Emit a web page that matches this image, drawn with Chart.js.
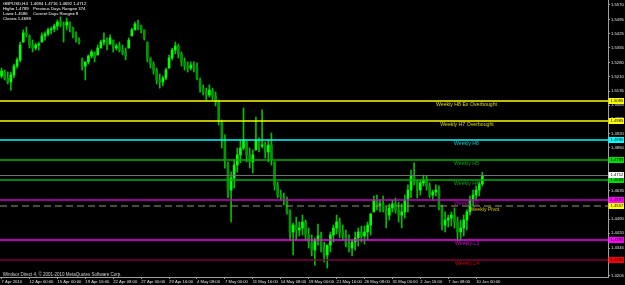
<!DOCTYPE html>
<html><head><meta charset="utf-8">
<script src="https://cdn.jsdelivr.net/npm/chart.js@4.4.1/dist/chart.umd.min.js"></script>
<style>html,body{margin:0;padding:0;background:#000;overflow:hidden}canvas{display:block}</style>
</head><body>
<canvas id="c" width="625" height="285"></canvas>
<script>
// ---------------- DATA ----------------
const dateLabels = ["7 Apr 2010","12 Apr 00:00","15 Apr 00:00","19 Apr 16:00","22 Apr 08:00","27 Apr 00:00","29 Apr 16:00","4 May 08:00","7 May 00:00","11 May 16:00","14 May 08:00","19 May 00:00","21 May 16:00","26 May 08:00","31 May 00:00","2 Jun 16:00","7 Jun 08:00","10 Jun 00:00"];
const priceTicks = [1.5570,1.5495,1.5425,1.5355,1.5280,1.5210,1.5135,1.5065,1.4995,1.4920,1.4850,1.4780,1.4705,1.4635,1.4565,1.4490,1.4420,1.4345,1.4275,1.4205];

const highs = [1.5252,1.5242,1.5232,1.5232,1.5272,1.5303,1.5383,1.5444,1.5459,1.5419,1.5393,1.5378,1.5383,1.5429,1.5434,1.5454,1.5459,1.5474,1.5494,1.5509,
1.5484,1.5504,1.5484,1.5459,1.5434,1.5404,1.5303,1.5283,1.5318,1.5343,1.5333,1.5368,1.5393,1.5429,1.5404,1.5419,1.5393,1.5373,1.5383,1.5368,
1.5353,1.5404,1.5454,1.5484,1.5494,1.5469,1.5444,1.5383,1.5303,1.5283,1.5252,1.5222,1.5212,1.5252,1.5318,1.5353,1.5383,1.5373,1.5333,1.5303,
1.5283,1.5283,1.5283,1.5278,1.5202,1.5167,1.5151,1.5167,1.5151,1.5131,1.5091,1.4990,1.4915,1.4779,1.4728,1.4789,1.4849,1.4889,1.5051,1.4889,
1.4849,1.4839,1.5005,1.4900,1.5041,1.4879,1.4889,1.4925,1.4779,1.4678,1.4637,1.4622,1.4602,1.4537,1.4471,1.4501,1.4476,1.4511,1.4486,1.4446,
1.4411,1.4396,1.4466,1.4426,1.4375,1.4355,1.4426,1.4461,1.4511,1.4496,1.4461,1.4436,1.4411,1.4385,1.4426,1.4446,1.4456,1.4456,1.4476,1.4521,
1.4607,1.4612,1.4587,1.4607,1.4552,1.4567,1.4587,1.4597,1.4577,1.4567,1.4612,1.4663,1.4738,1.4774,1.4688,1.4688,1.4713,1.4708,1.4673,1.4637,
1.4663,1.4658,1.4562,1.4527,1.4511,1.4527,1.4547,1.4501,1.4486,1.4511,1.4537,1.4607,1.4637,1.4658,1.4678,1.4728];

const lows = [1.5202,1.5192,1.5172,1.5141,1.5202,1.5252,1.5283,1.5383,1.5409,1.5353,1.5333,1.5343,1.5343,1.5383,1.5393,1.5414,1.5424,1.5434,1.5444,1.5459,
1.5383,1.5444,1.5434,1.5404,1.5383,1.5373,1.5242,1.5192,1.5272,1.5303,1.5283,1.5318,1.5353,1.5368,1.5343,1.5373,1.5333,1.5343,1.5333,1.5318,
1.5293,1.5353,1.5414,1.5444,1.5444,1.5429,1.5393,1.5283,1.5252,1.5222,1.5172,1.5151,1.5162,1.5192,1.5252,1.5293,1.5323,1.5303,1.5262,1.5242,
1.5232,1.5242,1.5232,1.5192,1.5131,1.5116,1.5091,1.5106,1.5091,1.5061,1.4965,1.4849,1.4748,1.4597,1.4476,1.4648,1.4728,1.4774,1.4839,1.4779,
1.4748,1.4723,1.4839,1.4829,1.4849,1.4799,1.4779,1.4763,1.4637,1.4597,1.4587,1.4562,1.4516,1.4385,1.4310,1.4385,1.4406,1.4411,1.4385,1.4345,
1.4305,1.4259,1.4360,1.4325,1.4275,1.4244,1.4325,1.4375,1.4416,1.4396,1.4385,1.4350,1.4325,1.4305,1.4335,1.4355,1.4375,1.4365,1.4385,1.4411,
1.4527,1.4537,1.4527,1.4527,1.4446,1.4486,1.4527,1.4521,1.4476,1.4446,1.4496,1.4527,1.4597,1.4663,1.4597,1.4612,1.4658,1.4637,1.4597,1.4587,
1.4607,1.4537,1.4436,1.4426,1.4451,1.4456,1.4446,1.4385,1.4385,1.4406,1.4436,1.4511,1.4557,1.4587,1.4607,1.4658];

const opens = [1.5212,1.5232,1.5202,1.5182,1.5217,1.5262,1.5293,1.5383,1.5429,1.5414,1.5368,1.5353,1.5368,1.5383,1.5414,1.5424,1.5444,1.5449,1.5464,1.5484,
1.5474,1.5469,1.5484,1.5454,1.5424,1.5393,1.5293,1.5262,1.5283,1.5313,1.5333,1.5318,1.5353,1.5383,1.5393,1.5373,1.5393,1.5353,1.5363,1.5343,
1.5333,1.5353,1.5414,1.5444,1.5474,1.5464,1.5444,1.5383,1.5303,1.5272,1.5242,1.5192,1.5182,1.5202,1.5252,1.5303,1.5343,1.5363,1.5323,1.5283,
1.5262,1.5252,1.5267,1.5252,1.5192,1.5151,1.5131,1.5116,1.5141,1.5111,1.5081,1.4980,1.4889,1.4768,1.4637,1.4698,1.4763,1.4814,1.4849,1.4879,
1.4814,1.4779,1.4839,1.4889,1.4859,1.4864,1.4829,1.4864,1.4779,1.4663,1.4612,1.4602,1.4587,1.4527,1.4426,1.4461,1.4436,1.4446,1.4476,1.4411,
1.4375,1.4335,1.4385,1.4406,1.4345,1.4310,1.4360,1.4411,1.4446,1.4476,1.4426,1.4406,1.4365,1.4345,1.4375,1.4396,1.4426,1.4406,1.4426,1.4461,
1.4527,1.4587,1.4562,1.4567,1.4537,1.4511,1.4547,1.4567,1.4537,1.4511,1.4527,1.4587,1.4637,1.4708,1.4678,1.4637,1.4673,1.4688,1.4658,1.4612,
1.4627,1.4637,1.4547,1.4461,1.4486,1.4496,1.4511,1.4476,1.4426,1.4446,1.4486,1.4527,1.4587,1.4612,1.4637,1.4668];

const closes = [1.5237,1.5202,1.5182,1.5217,1.5262,1.5293,1.5368,1.5429,1.5419,1.5368,1.5353,1.5368,1.5373,1.5414,1.5424,1.5444,1.5449,1.5464,1.5484,1.5474,
1.5469,1.5484,1.5454,1.5424,1.5393,1.5383,1.5262,1.5283,1.5313,1.5333,1.5303,1.5353,1.5383,1.5393,1.5363,1.5404,1.5353,1.5363,1.5343,1.5333,
1.5313,1.5393,1.5444,1.5474,1.5464,1.5444,1.5404,1.5303,1.5272,1.5242,1.5192,1.5182,1.5202,1.5242,1.5303,1.5343,1.5363,1.5323,1.5283,1.5262,
1.5252,1.5267,1.5252,1.5202,1.5151,1.5131,1.5116,1.5141,1.5111,1.5081,1.4990,1.4889,1.4789,1.4637,1.4698,1.4763,1.4814,1.4849,1.4889,1.4814,
1.4779,1.4814,1.4889,1.4859,1.4864,1.4829,1.4864,1.4789,1.4663,1.4612,1.4602,1.4587,1.4527,1.4426,1.4461,1.4436,1.4446,1.4476,1.4411,1.4375,
1.4335,1.4385,1.4406,1.4345,1.4310,1.4360,1.4411,1.4446,1.4476,1.4426,1.4406,1.4365,1.4345,1.4375,1.4396,1.4426,1.4406,1.4426,1.4461,1.4516,
1.4587,1.4562,1.4567,1.4537,1.4511,1.4547,1.4567,1.4537,1.4511,1.4527,1.4587,1.4637,1.4708,1.4678,1.4637,1.4673,1.4688,1.4658,1.4612,1.4627,
1.4637,1.4547,1.4461,1.4486,1.4496,1.4511,1.4476,1.4426,1.4446,1.4486,1.4527,1.4587,1.4612,1.4637,1.4668,1.4712];

const levelNames = ["Weekly H8 Ex Overbought","Weekly H7 Overbought","Weekly H6","Weekly H5","Weekly H4","Weekly H3","Weekly Pivot","Weekly L3","Weekly L4"];
const levelValues = [1.5085,1.4985,1.4890,1.4789,1.4688,1.4587,1.4557,1.4385,1.4284];
const currentPrice = 1.4712;

const headerLines = [
  ["GBPUSD,H4  1.4694 1.4716 1.4692 1.4712", ""],
  ["High= 1.4789", "Previous Days Range= 374"],
  ["Low= 1.4586", "Current Days Range= 8"],
  ["Close= 1.4698", ""]
];
const copyrightText = "Windsor Direct 4, \u00A9 2001-2010 MetaQuotes Software Corp.";

// ---------------- STYLE ----------------
const SLOTS = 196;      // bar slots across the plot (right part left empty as in MT4 shift)
const LABEL_EVERY = 9;
const FONT = '"Liberation Sans", Arial, sans-serif';
const levelStyle = [
  {line:'#ffff00', text:'#d8d800', box:'#ffff00', w:1.5, cx:466.5},
  {line:'#ffff00', text:'#d8d800', box:'#ffff00', w:1.5, cx:467},
  {line:'#00ffff', text:'#00c8c8', box:'#00ffff', w:1.5, cx:466.5},
  {line:'#00b400', text:'#00a800', box:'#00e000', w:1.5, cx:466.5},
  {line:'#00b400', text:'#00a800', box:'#00e000', w:1.5, cx:466.5},
  {line:'#d000d0', text:'#b000b0', box:'#ff00ff', w:1.5, cx:466.5},
  {line:'#9a9a60', text:'#d8c400', box:'#ffff00', w:1.2, cx:484.5, dash:[7,4]},
  {line:'#ff00ff', text:'#d000d0', box:'#ff00ff', w:1.5, cx:467},
  {line:'#800040', text:'#d00000', box:'#ff0000', w:1.5, cx:467}
];

const labels = new Array(SLOTS).fill('');
dateLabels.forEach((d, k) => { labels[k * LABEL_EVERY] = d; });

const levelsPlugin = {
  id: 'levels',
  afterDatasetsDraw(chart) {
    const {ctx, chartArea: a, scales: {y}} = chart;
    ctx.save();
    // bid line
    let py = Math.round(y.getPixelForValue(currentPrice)) + 0.5;
    ctx.strokeStyle = '#707070'; ctx.lineWidth = 1; ctx.setLineDash([]);
    ctx.beginPath(); ctx.moveTo(a.left, py); ctx.lineTo(a.right, py); ctx.stroke();
    levelValues.forEach((v, i) => {
      const st = levelStyle[i];
      const p = Math.round(y.getPixelForValue(v));
      ctx.strokeStyle = st.line; ctx.lineWidth = st.w; ctx.setLineDash(st.dash || []);
      ctx.beginPath(); ctx.moveTo(a.left, p); ctx.lineTo(a.right, p); ctx.stroke();
    });
    ctx.setLineDash([]);
    // level labels
    ctx.font = '5.2px ' + FONT; ctx.textAlign = 'center'; ctx.textBaseline = 'middle';
    levelValues.forEach((v, i) => {
      const st = levelStyle[i];
      const p = y.getPixelForValue(v);
      ctx.fillStyle = st.text;
      ctx.fillText(levelNames[i], st.cx, p + 3.6);
    });
    ctx.restore();
  },
  afterDraw(chart) {
    const {ctx, chartArea: a, scales: {y}} = chart;
    ctx.save();
    // right price tags
    const tag = (v, bg) => {
      const p = Math.round(y.getPixelForValue(v));
      ctx.fillStyle = bg;
      ctx.fillRect(a.right + 0.5, p - 3, 15.5, 6);
      ctx.fillStyle = '#000';
      ctx.font = '4.2px ' + FONT; ctx.textAlign = 'left'; ctx.textBaseline = 'middle';
      ctx.fillText(v.toFixed(4), a.right + 2.5, p + 0.3);
    };
    levelValues.forEach((v, i) => tag(v, levelStyle[i].box));
    tag(currentPrice, '#ffffff');
    // header
    ctx.fillStyle = '#ffffff';
    ctx.font = '4.3px ' + FONT; ctx.textAlign = 'left'; ctx.textBaseline = 'middle';
    headerLines.forEach((ln, k) => {
      ctx.fillText(ln[0], 3, 4 + k * 5);
      if (ln[1]) ctx.fillText(ln[1], 33, 4 + k * 5);
    });
    // copyright
    ctx.fillStyle = '#d0d0d0';
    ctx.font = '4.5px ' + FONT;
    ctx.fillText(copyrightText, 2.7, a.bottom - 2.6);
    ctx.restore();
  }
};

Chart.defaults.font.family = FONT;

new Chart(document.getElementById('c'), {
  type: 'bar',
  data: {
    labels: labels,
    datasets: [
      {
        data: lows.map((l, i) => [l, highs[i]]),
        backgroundColor: '#00c000',
        barThickness: 1,
        grouped: false,
        order: 2
      },
      {
        data: opens.map((o, i) => [o, closes[i]]),
        backgroundColor: opens.map((o, i) => closes[i] >= o ? '#00ff00' : '#009800'),
        barThickness: 2,
        grouped: false,
        order: 1
      }
    ]
  },
  options: {
    responsive: false,
    animation: false,
    devicePixelRatio: 1,
    layout: {padding: 0},
    plugins: {legend: {display: false}, tooltip: {enabled: false}, title: {display: false}},
    scales: {
      x: {
        type: 'category',
        offset: true,
        grid: {display: true, drawOnChartArea: false, drawTicks: true, tickLength: 2, color: '#a0a0a0', offset: false},
        border: {display: true, color: '#a0a0a0'},
        ticks: {autoSkip: false, maxRotation: 0, minRotation: 0, align: 'start', padding: 0, color: '#e0e0e0', font: {size: 4.2}},
        afterBuildTicks(s) { s.ticks = s.ticks.filter(t => labels[t.value]); },
        afterFit(s) { s.height = 8; s.paddingLeft = 0; s.paddingRight = 0; }
      },
      y: {
        position: 'right',
        min: 1.4199,
        max: 1.5595,
        grid: {drawOnChartArea: false, drawTicks: true, tickLength: 2, color: '#a0a0a0'},
        border: {display: true, color: '#a0a0a0'},
        ticks: {padding: 1, color: '#e0e0e0', font: {size: 4.2}, callback: v => Number(v).toFixed(4)},
        afterBuildTicks(s) { s.ticks = priceTicks.map(v => ({value: v})); },
        afterFit(s) { s.width = 17; s.paddingTop = 0; s.paddingBottom = 0; }
      }
    }
  },
  plugins: [levelsPlugin]
});
</script>
</body></html>
